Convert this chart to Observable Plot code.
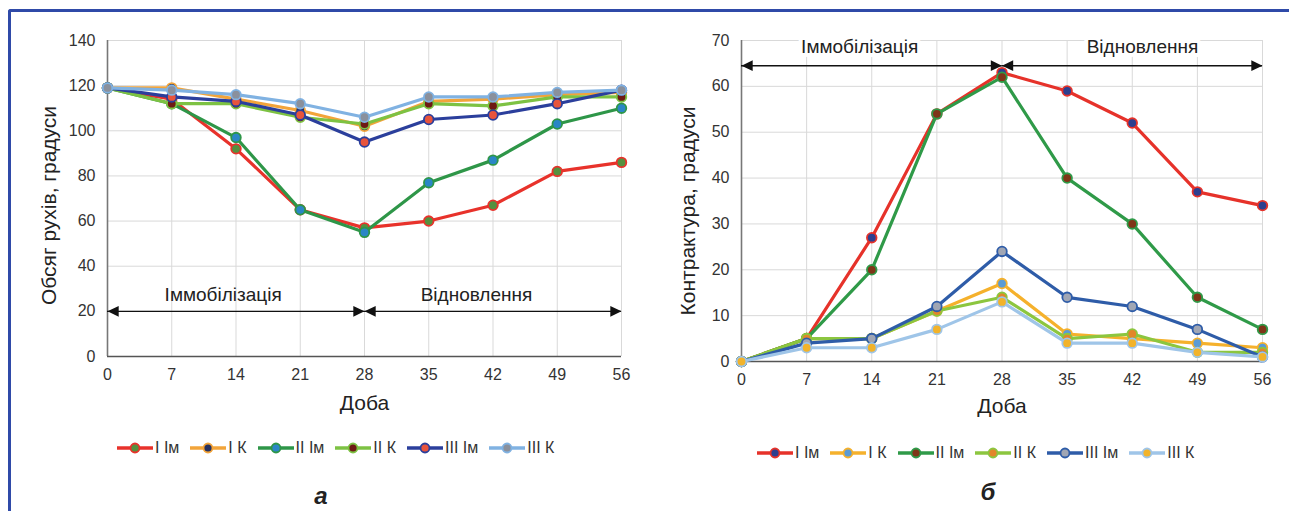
<!DOCTYPE html>
<html>
<head>
<meta charset="utf-8">
<script src="https://cdn.jsdelivr.net/npm/d3@7"></script>
<script src="https://cdn.jsdelivr.net/npm/@observablehq/plot@0.6"></script>
<style>
  body { margin: 0; background: #fff; }
  #page { position: relative; width: 1289px; height: 511px; overflow: hidden; background: #fff;
          font-family: 'Liberation Sans Narrow', 'Liberation Sans', Arial, sans-serif; }
  #frame { position: absolute; left: 8px; top: 9px; width: 1400px; height: 600px;
           border-left: 3px solid #2f4aa8; border-top: 3px solid #2f4aa8; border-top-left-radius: 3px; }
  .chart { position: absolute; top: 0; }
  .legend { position: absolute; display: flex; align-items: center; height: 18px;
            font-size: 16px; color: #333; white-space: nowrap; }
  .legend .item { display: flex; align-items: center; margin-right: 11px; }
  .legend .item svg { display: block; }
  .legend .item span { margin-left: 2px; }
  .caption { position: absolute; font-family: 'Liberation Sans', Arial, sans-serif; font-weight: bold;
             font-style: italic; font-size: 24px; color: #222; transform: translate(-50%, -50%); }
</style>
</head>
<body>
<div id="page">
  <div id="frame"></div>
  <div id="chartA" class="chart" style="left:0px"></div>
  <div id="chartB" class="chart" style="left:645px"></div>
  <div id="legendA" class="legend" style="left:117px; top:439px"></div>
  <div id="legendB" class="legend" style="left:757px; top:444px"></div>
  <div class="caption" style="left:321px; top:496px">а</div>
  <div class="caption" style="left:988px; top:492px">б</div>
</div>
<script>
// ---- data ----
const days = [0, 7, 14, 21, 28, 35, 42, 49, 56];
const seriesNames = ["I Ім", "I К", "II Ім", "II К", "III Ім", "III К"];

// а: Обсяг рухів, градуси
const motionI_Im   = [119, 114, 92, 65, 57, 60, 67, 82, 86];
const motionI_K    = [119, 119, 114, 109, 102, 113, 114, 116, 117];
const motionII_Im  = [119, 112, 97, 65, 55, 77, 87, 103, 110];
const motionII_K   = [119, 112, 112, 106, 103, 112, 111, 115, 115];
const motionIII_Im = [119, 115, 113, 107, 95, 105, 107, 112, 118];
const motionIII_K  = [119, 118, 116, 112, 106, 115, 115, 117, 118];

// б: Контрактура, градуси
const contrI_Im   = [0, 5, 27, 54, 63, 59, 52, 37, 34];
const contrI_K    = [0, 5, 5, 11, 17, 6, 5, 4, 3];
const contrII_Im  = [0, 5, 20, 54, 62, 40, 30, 14, 7];
const contrII_K   = [0, 5, 5, 11, 14, 5, 6, 2, 2];
const contrIII_Im = [0, 4, 5, 12, 24, 14, 12, 7, 1];
const contrIII_K  = [0, 3, 3, 7, 13, 4, 4, 2, 1];

const motionTicks = [0, 20, 40, 60, 80, 100, 120, 140];
const contrTicks = [0, 10, 20, 30, 40, 50, 60, 70];

const phaseLabels = ["Іммобілізація", "Відновлення"];
const phaseStart = [0, 28];
const phaseEnd = [28, 56];

// ---- styles ----
const colorsA = {
  line: ["#e8322b", "#f2a43a", "#2e9648", "#7dc243", "#2b3f9c", "#80b2e2"],
  fill: ["#55903f", "#26305e", "#2a86c6", "#6e1a14", "#e8543c", "#8a909c"]
};
const colorsB = {
  line: ["#e6322a", "#f5b12c", "#2f9a48", "#8cc63f", "#2e5ca8", "#9fc5e8"],
  fill: ["#2d3f8f", "#5b9bd5", "#7f3518", "#e2862a", "#a0a6b4", "#f2b32a"]
};

const triRight = { draw(ctx, size) { const s = Math.sqrt(size); ctx.moveTo(0, 0); ctx.lineTo(-1.15 * s, -0.55 * s); ctx.lineTo(-1.15 * s, 0.55 * s); ctx.closePath(); } };
const triLeft  = { draw(ctx, size) { const s = Math.sqrt(size); ctx.moveTo(0, 0); ctx.lineTo(1.15 * s, -0.55 * s); ctx.lineTo(1.15 * s, 0.55 * s); ctx.closePath(); } };

function makeChart(o) {
  const idx = phaseLabels.map((_, i) => i);
  const marks = [
    Plot.gridY(o.yTicks, {stroke: "#d9d9d9", strokeOpacity: 1}),
    Plot.gridX(days, {stroke: "#d9d9d9", strokeOpacity: 1}),
    Plot.ruleX([0], {stroke: "#777", strokeWidth: 1.6}),
    Plot.ruleY([0], {stroke: "#555", strokeWidth: 1.6}),
    Plot.axisX(days, {tickSize: 0, tickPadding: 12, fontSize: 16, label: null, color: "#333"}),
    Plot.axisY(o.yTicks, {tickSize: 0, tickPadding: 12, fontSize: 16, label: null, color: "#333"}),
    // phase labels
    Plot.text(idx, {x: i => o.labelX[i], y: () => o.labelY, text: i => phaseLabels[i], fontSize: 19,
      fill: "#222", stroke: o.halo ? "white" : undefined, strokeWidth: o.halo ? 8 : undefined}),
    // phase arrows
    Plot.ruleY(idx, {y: () => o.arrowY, x1: i => phaseStart[i], x2: i => phaseEnd[i], stroke: "#111", strokeWidth: 1.4}),
    Plot.dot(idx, {x: i => phaseStart[i], y: () => o.arrowY, symbol: triLeft, r: 5.5, fill: "#111", stroke: "none"}),
    Plot.dot(idx, {x: i => phaseEnd[i], y: () => o.arrowY, symbol: triRight, r: 5.5, fill: "#111", stroke: "none"}),
  ];
  o.series.forEach((vals, k) => {
    const data = days.map((d, i) => ({day: d, value: vals[i], series: seriesNames[k]}));
    marks.push(Plot.line(data, {x: "day", y: "value", stroke: o.colors.line[k], strokeWidth: 3.2}));
    marks.push(Plot.dot(data, {x: "day", y: "value", r: 4.8, fill: o.colors.fill[k], stroke: o.colors.line[k], strokeWidth: 1.8}));
  });
  marks.push(Plot.text([o.yTitle], {frameAnchor: "left", text: d => d, rotate: -90, textAnchor: "middle", lineAnchor: "middle",
    dx: o.titleDx, dy: o.titleDy, fontSize: 21, fill: "#222"}));
  marks.push(Plot.text(["Доба"], {frameAnchor: "bottom", text: d => d, textAnchor: "middle", lineAnchor: "middle",
    dy: o.xTitleDy, fontSize: 21, fill: "#222"}));
  return Plot.plot({
    width: o.width, height: o.height,
    marginLeft: o.ml, marginRight: o.mr, marginTop: o.mt, marginBottom: o.mb,
    x: {domain: [0, 56], label: null},
    y: {domain: [0, o.yMax], label: null},
    style: {fontFamily: "'Liberation Sans Narrow', 'Liberation Sans', Arial, sans-serif", fontSize: "16px", background: "transparent", overflow: "visible"},
    marks
  });
}

document.getElementById("chartA").appendChild(makeChart({
  series: [motionI_Im, motionI_K, motionII_Im, motionII_K, motionIII_Im, motionIII_K],
  colors: colorsA, yTicks: motionTicks, yMax: 140, yTitle: "Обсяг рухів, градуси",
  width: 645, height: 425, ml: 107, mr: 24, mt: 40, mb: 69,
  arrowY: 20, labelY: 27.5, labelX: [12.6, 40.2], halo: false,
  titleDx: -58, titleDy: 7, xTitleDy: 47
}));

document.getElementById("chartB").appendChild(makeChart({
  series: [contrI_Im, contrI_K, contrII_Im, contrII_K, contrIII_Im, contrIII_K],
  colors: colorsB, yTicks: contrTicks, yMax: 70, yTitle: "Контрактура, градуси",
  width: 640, height: 425, ml: 96, mr: 23, mt: 40, mb: 64,
  arrowY: 64.5, labelY: 68.5, labelX: [12.7, 43.1], halo: true,
  titleDx: -53, titleDy: 10, xTitleDy: 45
}));

function legend(el, colors) {
  seriesNames.forEach((name, k) => {
    const item = document.createElement("div");
    item.className = "item";
    item.innerHTML = `<svg width="36" height="14"><line x1="0" x2="36" y1="7" y2="7" stroke="${colors.line[k]}" stroke-width="3.5"/>` +
      `<circle cx="18" cy="7" r="4.5" fill="${colors.fill[k]}" stroke="${colors.line[k]}" stroke-width="1.8"/></svg><span>${name}</span>`;
    el.appendChild(item);
  });
}
legend(document.getElementById("legendA"), colorsA);
legend(document.getElementById("legendB"), colorsB);
</script>
</body>
</html>
